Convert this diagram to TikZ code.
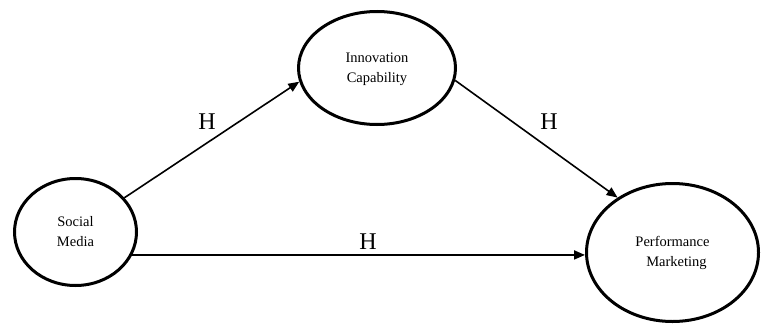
\documentclass[tikz,border=0pt]{standalone}
\usepackage{fontspec}
\setmainfont{Liberation Serif}
\usetikzlibrary{shapes.geometric,arrows.meta}
\tikzset{
  construct/.style={ellipse, draw, line width=3pt, inner sep=0pt, align=center,
    font=\fontsize{14.5}{20}\selectfont},
  path/.style={line width=1.6pt, -{Triangle[length=11pt,width=9pt]}},
  hlabel/.style={font=\fontsize{24}{26}\selectfont, inner sep=0pt}
}
\begin{document}
\begin{tikzpicture}[x=1pt,y=-1pt]
\useasboundingbox (0,0) rectangle (762,324);
\node[construct, minimum width=122pt, minimum height=107pt] (sm) at (75.5,232) {\raisebox{-5pt}{\begin{tabular}{@{}c@{}}Social\\Media\end{tabular}}};
\node[construct, minimum width=157pt, minimum height=113pt] (ic) at (377,68) {\raisebox{-5pt}{\begin{tabular}{@{}c@{}}Innovation\\Capability\end{tabular}}};
\node[construct, minimum width=172pt, minimum height=138pt] (pm) at (672.5,252.5) {\raisebox{-6pt}{\begin{tabular}{@{}c@{}}Performance\\\hspace*{8pt}Marketing\end{tabular}}};
\draw[path] (sm.35) -- (ic.190);
\draw[path] (ic.-9) -- (pm.135);
\coordinate (hs) at (sm.-22);
\draw[path, line width=1.9pt] (hs) -- (hs -| pm.west);
\node[hlabel] (h1) at (207,122) {H};
\node[hlabel] (h2) at (549,122) {H};
\node[hlabel] (h3) at (368,242) {H};
\end{tikzpicture}
\end{document}
